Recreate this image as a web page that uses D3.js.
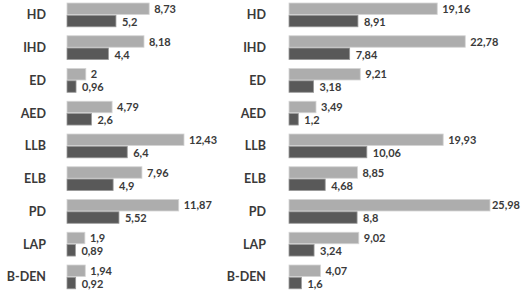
<!DOCTYPE html>
<html>
<head>
<meta charset="utf-8">
<script src="https://cdn.jsdelivr.net/npm/d3@7"></script>
<style>
  body { margin: 0; background: #fff; }
  text { font-family: Lato, "Open Sans", sans-serif; font-weight: bold; fill: #3a3a3a; }
</style>
</head>
<body>
<svg id="chart" width="521" height="292"></svg>
<script>
// categories, top to bottom
const categories = ["HD", "IHD", "ED", "AED", "LLB", "ELB", "PD", "LAP", "B-DEN"];

// left panel
const leftLight = [8.73, 8.18, 2, 4.79, 12.43, 7.96, 11.87, 1.9, 1.94];
const leftDark  = [5.2, 4.4, 0.96, 2.6, 6.4, 4.9, 5.52, 0.89, 0.92];

// right panel
const rightLight = [19.16, 22.78, 9.21, 3.49, 19.93, 8.85, 25.98, 9.02, 4.07];
const rightDark  = [8.91, 7.84, 3.18, 1.2, 10.06, 4.68, 8.8, 3.24, 1.6];

const W = 521;
const svg = d3.select("#chart");

const y = d3.scaleBand()
    .domain(categories)
    .range([3, 3 + categories.length * 32.75])
    .padding(0);

const fmt = v => String(v).replace(".", ",");

function drawPanel(light, dark, x, labelX) {
    const g = svg.append("g");
    const rows = categories.map((c, i) => ({ cat: c, light: light[i], dark: dark[i] }));

    const row = g.selectAll(".row")
        .data(rows)
        .enter().append("g")
        .attr("class", "row")
        .attr("transform", d => `translate(0,${y(d.cat)})`);

    row.append("text")
        .attr("x", labelX)
        .attr("y", 12)
        .attr("dy", "0.35em")
        .attr("text-anchor", "end")
        .style("font-size", "12.5px")
        .text(d => d.cat);

    row.append("rect")
        .attr("x", x(0))
        .attr("y", 0)
        .attr("width", d => x(d.light) - x(0))
        .attr("height", 11.5)
        .attr("fill", "#adadad")
        .attr("stroke", "#d4d4d4")
        .attr("stroke-width", 0.8);

    row.append("rect")
        .attr("x", x(0))
        .attr("y", 12.3)
        .attr("width", d => x(d.dark) - x(0))
        .attr("height", 11.5)
        .attr("fill", "#595959")
        .attr("stroke", "#9a9a9a")
        .attr("stroke-width", 0.8);

    row.append("text")
        .attr("class", "val")
        .attr("x", d => x(d.light) + 5)
        .attr("y", 6)
        .attr("dy", "0.35em")
        .style("font-size", "11px")
        .text(d => fmt(d.light));

    row.append("text")
        .attr("class", "val")
        .attr("x", d => x(d.dark) + 6)
        .attr("y", 19)
        .attr("dy", "0.35em")
        .style("font-size", "11px")
        .text(d => fmt(d.dark));

    // keep value labels inside the picture
    row.selectAll(".val").each(function () {
        const t = d3.select(this);
        const len = this.getComputedTextLength();
        const x0 = +t.attr("x");
        if (x0 + len > W - 1) t.attr("x", W - 1 - len);
    });
}

const xLeft = d3.scaleLinear().domain([0, 12.43]).range([67, 184]);
const xRight = d3.scaleLinear().domain([0, 25.98]).range([289, 490]);

drawPanel(leftLight, leftDark, xLeft, 46);
drawPanel(rightLight, rightDark, xRight, 266);
</script>
</body>
</html>
